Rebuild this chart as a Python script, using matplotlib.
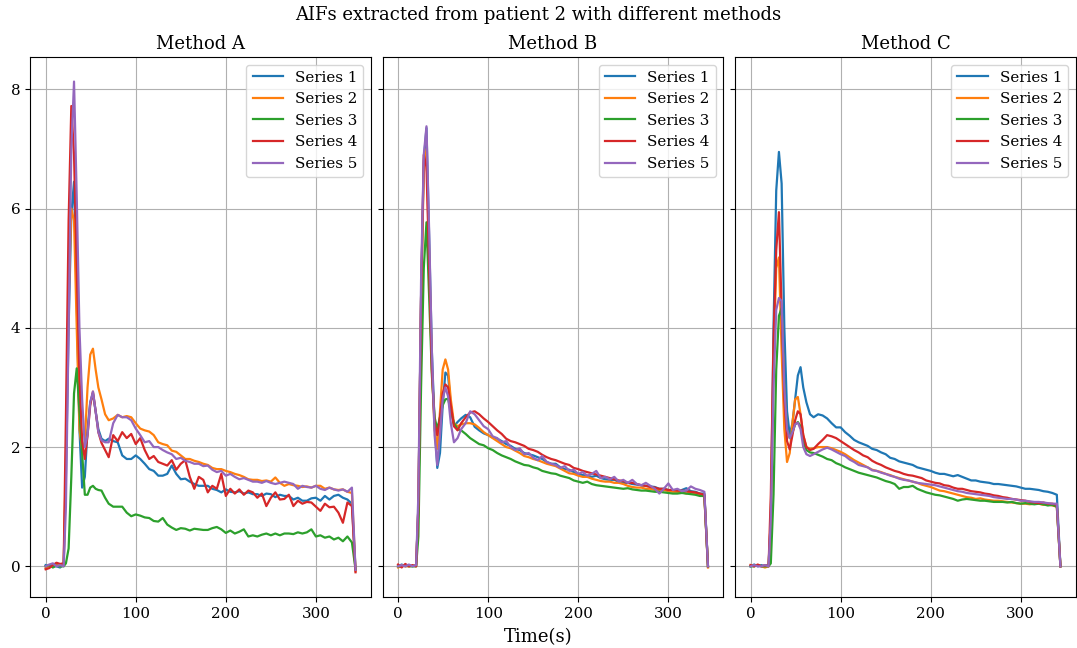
import matplotlib
matplotlib.use('Agg')
import matplotlib.pyplot as plt
from matplotlib.ticker import MultipleLocator

plt.rcParams['font.family'] = 'serif'
plt.rcParams['font.size'] = 10.9
plt.rcParams['lines.linewidth'] = 1.6

# sampling times (s): finer around the bolus peak
t_early = [0, 4, 8, 12, 16, 20, 22.5, 25.5, 28.5, 31.5, 34.5, 37.5, 40.5,
           43.5, 46.5, 49.5, 52.5, 55.5, 58.5, 62, 66]
time = t_early + list(range(70, 341, 5)) + [344]

labels = ['Series 1', 'Series 2', 'Series 3', 'Series 4', 'Series 5']
titles = ['Method A', 'Method B', 'Method C']

# ---- Method A ----
a1 = [0.02, 0.00, 0.03, 0.00, -0.02, 0.03, 1.5, 4.0, 5.9, 6.45, 4.5, 2.3, 1.32, 1.5, 2.3, 2.75, 2.9, 2.6, 2.3, 2.14, 2.1,
      2.14, 2.10, 2.08, 1.86, 1.80, 1.80, 1.86, 1.80, 1.72, 1.63, 1.60,
      1.52, 1.52, 1.55, 1.69, 1.55, 1.46, 1.47, 1.42, 1.38, 1.35, 1.35,
      1.35, 1.30, 1.28, 1.24, 1.29, 1.25, 1.24, 1.26, 1.22, 1.24, 1.21,
      1.21, 1.18, 1.22, 1.21, 1.16, 1.20, 1.18, 1.18, 1.12, 1.15, 1.10,
      1.10, 1.14, 1.15, 1.10, 1.18, 1.12, 1.18, 1.20, 1.15, 1.12, 1.05,
      -0.05]
a2 = [-0.03, 0.02, 0.00, 0.03, 0.00, 0.02, 1.8, 4.5, 6.0, 5.8, 4.0, 2.3, 1.95, 2.1, 3.0, 3.55, 3.65, 3.3, 3.0, 2.8, 2.55,
      2.45, 2.48, 2.54, 2.50, 2.52, 2.50, 2.40, 2.31, 2.28, 2.26, 2.20,
      2.08, 2.05, 2.03, 1.94, 1.92, 1.86, 1.80, 1.80, 1.77, 1.75, 1.72,
      1.70, 1.65, 1.63, 1.63, 1.60, 1.58, 1.55, 1.53, 1.50, 1.46, 1.45,
      1.45, 1.43, 1.44, 1.42, 1.49, 1.40, 1.35, 1.38, 1.36, 1.35, 1.33,
      1.34, 1.32, 1.35, 1.35, 1.30, 1.32, 1.29, 1.28, 1.29, 1.25, 1.23,
      -0.08]
a3 = [0.00, 0.02, -0.02, 0.01, 0.00, 0.00, 0.05, 0.3, 1.5, 2.9, 3.32, 2.6, 1.9, 1.2, 1.2, 1.32, 1.35, 1.3, 1.28, 1.27, 1.15,
      1.05, 1.00, 1.00, 1.00, 0.90, 0.84, 0.87, 0.85, 0.82, 0.81, 0.76,
      0.75, 0.81, 0.70, 0.65, 0.61, 0.64, 0.63, 0.60, 0.63, 0.62, 0.61,
      0.61, 0.64, 0.66, 0.62, 0.56, 0.60, 0.55, 0.58, 0.62, 0.50, 0.52,
      0.50, 0.53, 0.55, 0.52, 0.55, 0.52, 0.55, 0.55, 0.54, 0.57, 0.55,
      0.57, 0.62, 0.50, 0.52, 0.48, 0.50, 0.45, 0.48, 0.42, 0.50, 0.40,
      -0.05]
a4 = [-0.05, -0.03, 0.02, 0.06, 0.04, 0.05, 2.5, 5.8, 7.72, 6.9, 5.0, 3.2, 2.1, 1.8, 2.2, 2.7, 2.93, 2.6, 2.25, 2.07, 1.95,
      1.83, 2.20, 2.10, 2.25, 2.15, 2.22, 2.05, 2.15, 1.95, 1.80, 1.85,
      1.75, 1.72, 1.69, 1.78, 1.62, 1.72, 1.78, 1.50, 1.30, 1.50, 1.45,
      1.24, 1.35, 1.30, 1.55, 1.18, 1.30, 1.22, 1.29, 1.20, 1.27, 1.24,
      1.15, 1.22, 1.01, 1.15, 1.24, 1.12, 1.13, 1.20, 1.01, 1.10, 1.05,
      1.08, 1.07, 1.00, 0.93, 1.05, 0.99, 1.00, 0.90, 0.73, 1.07, 1.01,
      -0.10]
a5 = [0.00, 0.03, 0.05, 0.00, 0.02, 0.00, 1.0, 4.0, 7.0, 8.13, 6.2, 4.0, 2.8, 2.0, 2.2, 2.75, 2.93, 2.6, 2.25, 2.11, 2.08,
      2.08, 2.40, 2.54, 2.50, 2.50, 2.45, 2.31, 2.20, 2.08, 2.10, 2.00,
      2.00, 1.95, 1.91, 1.88, 1.80, 1.82, 1.77, 1.75, 1.72, 1.72, 1.68,
      1.69, 1.62, 1.58, 1.60, 1.52, 1.55, 1.50, 1.46, 1.48, 1.45, 1.42,
      1.42, 1.40, 1.43, 1.40, 1.38, 1.40, 1.42, 1.40, 1.38, 1.30, 1.35,
      1.33, 1.32, 1.35, 1.30, 1.28, 1.32, 1.29, 1.27, 1.29, 1.25, 1.32,
      -0.06]

# ---- Method B ----
b1 = [0.00, 0.03, 0.00, 0.02, 0.00, 0.02, 1.0, 4.5, 6.8, 7.35, 5.5, 3.6, 2.4, 1.65, 1.9, 2.7, 3.25, 3.2, 2.7, 2.35, 2.42,
      2.48, 2.54, 2.50, 2.34, 2.28, 2.23, 2.20, 2.16, 2.14, 2.10, 2.05,
      2.02, 1.97, 1.95, 1.90, 1.88, 1.86, 1.83, 1.80, 1.75, 1.72, 1.72,
      1.66, 1.63, 1.62, 1.58, 1.55, 1.53, 1.52, 1.50, 1.52, 1.48, 1.46,
      1.45, 1.45, 1.42, 1.40, 1.40, 1.38, 1.37, 1.36, 1.35, 1.34, 1.33,
      1.30, 1.30, 1.28, 1.27, 1.25, 1.28, 1.31, 1.26, 1.25, 1.22, 1.22,
      0.00]
b2 = [-0.02, 0.02, 0.00, 0.00, 0.01, 0.00, 1.0, 4.5, 6.6, 7.0, 5.2, 3.3, 2.3, 1.97, 2.6, 3.3, 3.47, 3.3, 2.8, 2.4, 2.35,
      2.38, 2.40, 2.40, 2.38, 2.32, 2.25, 2.20, 2.15, 2.10, 2.05, 2.00,
      1.98, 1.94, 1.90, 1.85, 1.83, 1.80, 1.78, 1.75, 1.72, 1.70, 1.68,
      1.64, 1.60, 1.56, 1.55, 1.52, 1.50, 1.50, 1.47, 1.45, 1.43, 1.42,
      1.42, 1.40, 1.40, 1.38, 1.35, 1.33, 1.32, 1.32, 1.30, 1.30, 1.28,
      1.28, 1.28, 1.26, 1.25, 1.25, 1.24, 1.22, 1.24, 1.22, 1.20, 1.17,
      -0.02]
b3 = [0.00, 0.00, 0.02, 0.00, 0.00, 0.00, 0.5, 3.0, 5.0, 5.77, 4.5, 3.2, 2.5, 2.3, 2.5, 2.7, 2.8, 2.81, 2.6, 2.4, 2.3,
      2.28, 2.22, 2.15, 2.10, 2.05, 2.03, 1.98, 1.95, 1.90, 1.86, 1.83,
      1.80, 1.76, 1.73, 1.70, 1.69, 1.66, 1.64, 1.60, 1.58, 1.56, 1.55,
      1.52, 1.50, 1.48, 1.44, 1.42, 1.40, 1.42, 1.38, 1.36, 1.35, 1.34,
      1.33, 1.32, 1.31, 1.30, 1.31, 1.29, 1.28, 1.27, 1.27, 1.26, 1.25,
      1.25, 1.24, 1.23, 1.22, 1.22, 1.23, 1.22, 1.21, 1.20, 1.18, 1.18,
      0.00]
b4 = [0.03, -0.02, 0.04, 0.00, 0.02, 0.00, 1.0, 4.5, 6.9, 6.7, 5.0, 3.3, 2.4, 2.2, 2.5, 2.9, 3.05, 3.0, 2.7, 2.35, 2.28,
      2.40, 2.50, 2.58, 2.60, 2.55, 2.48, 2.42, 2.35, 2.28, 2.22, 2.14,
      2.10, 2.08, 2.05, 2.02, 1.97, 1.95, 1.92, 1.87, 1.83, 1.80, 1.78,
      1.75, 1.72, 1.70, 1.65, 1.63, 1.60, 1.58, 1.56, 1.54, 1.52, 1.50,
      1.48, 1.46, 1.44, 1.43, 1.40, 1.40, 1.38, 1.36, 1.35, 1.33, 1.32,
      1.30, 1.30, 1.28, 1.28, 1.27, 1.27, 1.26, 1.25, 1.24, 1.22, 1.20,
      0.00]
b5 = [0.00, 0.02, 0.00, 0.03, 0.00, 0.02, 1.2, 4.8, 6.9, 7.38, 5.6, 3.6, 2.2, 1.7, 2.2, 2.8, 3.0, 2.85, 2.4, 2.08, 2.15,
      2.30, 2.40, 2.60, 2.55, 2.45, 2.35, 2.30, 2.18, 2.15, 2.08, 2.10,
      2.00, 1.95, 1.98, 1.88, 1.90, 1.82, 1.78, 1.85, 1.75, 1.72, 1.70,
      1.65, 1.68, 1.60, 1.62, 1.55, 1.58, 1.52, 1.55, 1.60, 1.48, 1.50,
      1.46, 1.50, 1.42, 1.45, 1.40, 1.45, 1.38, 1.36, 1.40, 1.35, 1.30,
      1.22, 1.30, 1.39, 1.28, 1.30, 1.26, 1.27, 1.34, 1.30, 1.28, 1.25,
      0.00]

# ---- Method C ----
c1 = [0.00, 0.03, 0.00, 0.02, 0.00, 0.03, 0.8, 4.0, 6.3, 6.95, 6.42, 4.0, 2.6, 2.2, 2.4, 2.8, 3.2, 3.34, 3.0, 2.75, 2.55,
      2.50, 2.55, 2.53, 2.48, 2.40, 2.33, 2.33, 2.25, 2.19, 2.12, 2.08,
      2.05, 2.02, 1.97, 1.95, 1.91, 1.88, 1.82, 1.80, 1.76, 1.74, 1.72,
      1.70, 1.66, 1.64, 1.62, 1.60, 1.57, 1.55, 1.55, 1.53, 1.51, 1.53,
      1.50, 1.47, 1.44, 1.44, 1.42, 1.41, 1.40, 1.38, 1.38, 1.37, 1.36,
      1.35, 1.34, 1.32, 1.30, 1.30, 1.29, 1.28, 1.26, 1.25, 1.23, 1.20,
      0.00]
c2 = [0.02, 0.00, 0.02, 0.00, -0.02, 0.00, 0.8, 3.5, 5.0, 5.18, 3.6, 2.3, 1.75, 1.9, 2.4, 2.8, 2.84, 2.55, 2.2, 2.0, 1.97,
      1.98, 2.00, 2.00, 2.00, 1.98, 1.95, 1.92, 1.88, 1.83, 1.78, 1.74,
      1.70, 1.66, 1.62, 1.60, 1.58, 1.55, 1.53, 1.50, 1.48, 1.46, 1.44,
      1.42, 1.40, 1.37, 1.35, 1.33, 1.30, 1.27, 1.26, 1.24, 1.22, 1.20,
      1.18, 1.16, 1.15, 1.13, 1.14, 1.12, 1.11, 1.10, 1.10, 1.09, 1.08,
      1.07, 1.06, 1.05, 1.05, 1.04, 1.05, 1.05, 1.03, 1.04, 1.02, 1.00,
      0.00]
c3 = [0.00, 0.00, 0.02, 0.00, 0.00, 0.00, 0.05, 1.2, 3.3, 4.2, 4.33, 3.0, 2.3, 2.15, 2.25, 2.38, 2.42, 2.35, 2.1, 1.95, 1.91,
      1.90, 1.87, 1.84, 1.80, 1.78, 1.73, 1.70, 1.66, 1.63, 1.60, 1.57,
      1.55, 1.53, 1.51, 1.49, 1.46, 1.43, 1.41, 1.38, 1.30, 1.33, 1.33,
      1.35, 1.30, 1.27, 1.24, 1.22, 1.20, 1.19, 1.17, 1.15, 1.13, 1.10,
      1.12, 1.13, 1.12, 1.11, 1.10, 1.10, 1.09, 1.08, 1.08, 1.08, 1.07,
      1.08, 1.06, 1.05, 1.06, 1.05, 1.04, 1.05, 1.04, 1.02, 1.03, 1.00,
      0.00]
c4 = [0.02, 0.00, 0.03, 0.00, 0.02, 0.00, 1.2, 3.8, 5.3, 5.94, 4.3, 2.8, 2.1, 1.96, 2.2, 2.45, 2.6, 2.55, 2.2, 2.0, 1.95,
      1.97, 2.05, 2.12, 2.20, 2.18, 2.15, 2.10, 2.05, 2.00, 1.95, 1.91,
      1.86, 1.83, 1.77, 1.73, 1.70, 1.66, 1.63, 1.60, 1.58, 1.55, 1.53,
      1.52, 1.50, 1.48, 1.44, 1.42, 1.40, 1.39, 1.36, 1.35, 1.32, 1.30,
      1.30, 1.28, 1.26, 1.25, 1.24, 1.22, 1.21, 1.19, 1.18, 1.16, 1.15,
      1.13, 1.12, 1.11, 1.10, 1.08, 1.07, 1.06, 1.07, 1.05, 1.05, 1.03,
      0.00]
c5 = [0.00, 0.02, 0.00, 0.00, 0.02, 0.00, 0.8, 3.0, 4.3, 4.5, 4.45, 3.0, 2.3, 2.15, 2.25, 2.38, 2.41, 2.3, 2.0, 1.88, 1.85,
      1.88, 1.92, 1.96, 1.99, 1.96, 1.92, 1.88, 1.85, 1.79, 1.75, 1.70,
      1.68, 1.66, 1.61, 1.60, 1.57, 1.55, 1.52, 1.50, 1.47, 1.45, 1.44,
      1.42, 1.40, 1.39, 1.38, 1.37, 1.36, 1.34, 1.32, 1.30, 1.28, 1.26,
      1.25, 1.23, 1.22, 1.21, 1.20, 1.19, 1.18, 1.16, 1.15, 1.14, 1.13,
      1.13, 1.12, 1.10, 1.10, 1.09, 1.08, 1.08, 1.07, 1.06, 1.05, 1.05,
      0.00]

methods = [[a1, a2, a3, a4, a5], [b1, b2, b3, b4, b5], [c1, c2, c3, c4, c5]]

fig, axes = plt.subplots(1, 3, sharey=True, figsize=(10.77, 6.48), dpi=100)
fig.subplots_adjust(left=0.028, right=0.999, top=0.912, bottom=0.079, wspace=0.034)

for ax, title, series in zip(axes, titles, methods):
    for values, label in zip(series, labels):
        ax.plot(time, values, label=label)
    ax.set_title(title, fontsize=13)
    ax.xaxis.set_major_locator(MultipleLocator(100))
    ax.grid(True)
    ax.legend(loc='upper right')

fig.suptitle('AIFs extracted from patient 2 with different methods', fontsize=13, y=0.99)
fig.supxlabel('Time(s)', fontsize=13, y=0.003)
fig.savefig('out.png')
